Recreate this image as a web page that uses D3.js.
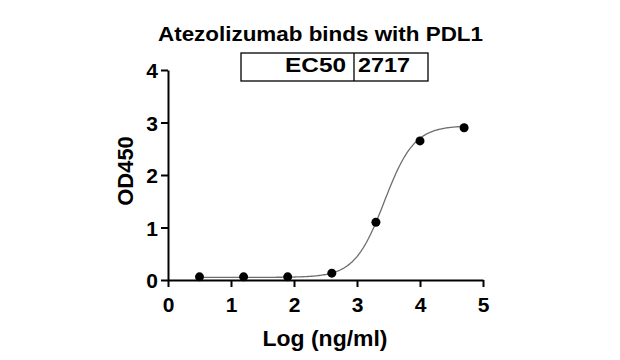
<!DOCTYPE html>
<html>
<head>
<meta charset="utf-8">
<script src="https://cdn.jsdelivr.net/npm/d3@7"></script>
<style>
  body { margin: 0; background: #fff; }
  text { font-family: Arial, "Liberation Sans", sans-serif; font-weight: bold; fill: #000; }
</style>
</head>
<body>
<svg id="chart" width="620" height="360"></svg>
<script>
// measured points (log ng/ml vs OD450)
const logConc = [0.5, 1.2, 1.9, 2.6, 3.3, 4.0, 4.7];
const od450 = [0.06, 0.06, 0.06, 0.13, 1.10, 2.65, 2.90];
// 4PL fit parameters: bottom, top, logEC50, hill
const fitParams = [0.05, 2.94, Math.log10(2717), 1.84];
const xTicks = [0, 1, 2, 3, 4, 5];
const yTicks = [0, 1, 2, 3, 4];
const tableCells = ["EC50", "2717"];

const svg = d3.select("#chart");
const x = d3.scaleLinear().domain([0, 5]).range([168, 483]);
const y = d3.scaleLinear().domain([0, 4]).range([280, 70]);

// title
svg.append("text")
  .attr("x", 320.5).attr("y", 41)
  .attr("text-anchor", "middle")
  .attr("textLength", 325).attr("lengthAdjust", "spacingAndGlyphs")
  .style("font-size", "20px")
  .text("Atezolizumab binds with PDL1");

// EC50 table
const tb = svg.append("g");
tb.append("rect")
  .attr("x", 241).attr("y", 53).attr("width", 187).attr("height", 28)
  .attr("fill", "none").attr("stroke", "#000").attr("stroke-width", 1.3);
tb.append("line")
  .attr("x1", 354).attr("x2", 354).attr("y1", 53).attr("y2", 81)
  .attr("stroke", "#000").attr("stroke-width", 1.3);
tb.append("text").attr("x", 285).attr("y", 72)
  .attr("textLength", 61).attr("lengthAdjust", "spacingAndGlyphs")
  .style("font-size", "21px").text(tableCells[0]);
tb.append("text").attr("x", 358).attr("y", 72)
  .attr("textLength", 52).attr("lengthAdjust", "spacingAndGlyphs")
  .style("font-size", "21px").text(tableCells[1]);

// axes
const xAxis = svg.append("g")
  .attr("transform", "translate(0,280)")
  .call(d3.axisBottom(x).tickValues(xTicks).tickFormat(d3.format("d")).tickSize(7).tickSizeOuter(0));
const yAxis = svg.append("g")
  .attr("transform", "translate(168,0)")
  .call(d3.axisLeft(y).tickValues(yTicks).tickFormat(d3.format("d")).tickSize(7).tickSizeOuter(0));

[xAxis, yAxis].forEach(function (a) {
  a.select(".domain").attr("stroke", "#000").attr("stroke-width", 2);
  a.selectAll(".tick line").attr("stroke", "#000").attr("stroke-width", 2);
  a.selectAll(".tick text").style("font-size", "21px")
    .style("font-family", "Arial, 'Liberation Sans', sans-serif").attr("fill", "#000");
});
xAxis.selectAll(".tick text").attr("dy", null).attr("y", 32);
yAxis.selectAll(".tick text").attr("x", -10).attr("dy", "0.36em");

// axis titles
svg.append("text")
  .attr("x", 325).attr("y", 346)
  .attr("text-anchor", "middle")
  .attr("textLength", 125).attr("lengthAdjust", "spacingAndGlyphs")
  .style("font-size", "22px")
  .text("Log (ng/ml)");
svg.append("text")
  .attr("transform", "translate(133,171) rotate(-90)")
  .attr("text-anchor", "middle")
  .style("font-size", "22px")
  .text("OD450");

// fitted curve
function fourPL(v) {
  const [bottom, top, logEC50, hill] = fitParams;
  return bottom + (top - bottom) / (1 + Math.pow(10, (logEC50 - v) * hill));
}
const curveX = d3.range(logConc[0], logConc[logConc.length - 1] + 0.001, 0.02);
svg.append("path")
  .datum(curveX)
  .attr("fill", "none")
  .attr("stroke", "#6e6e6e")
  .attr("stroke-width", 1.3)
  .attr("d", d3.line().x(function (d) { return x(d); }).y(function (d) { return y(fourPL(d)); }));

// points
svg.append("g")
  .selectAll("circle")
  .data(logConc)
  .enter()
  .append("circle")
  .attr("cx", function (d) { return x(d); })
  .attr("cy", function (d, i) { return y(od450[i]); })
  .attr("r", 4.5)
  .attr("fill", "#000");
</script>
</body>
</html>
